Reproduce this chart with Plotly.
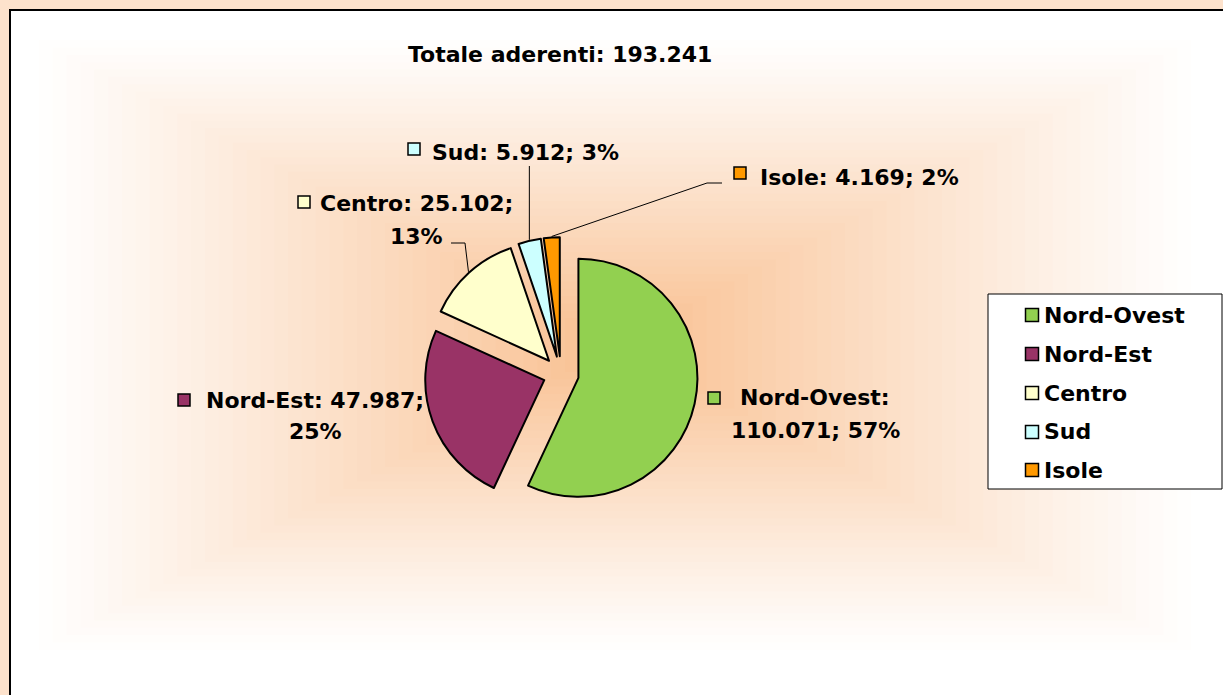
import math
import plotly.graph_objects as go

# dati
regioni = ["Nord-Ovest", "Nord-Est", "Centro", "Sud", "Isole"]
aderenti = [110071, 47987, 25102, 5912, 4169]
colori = ["#92D050", "#993366", "#FFFFCC", "#CCFFFF", "#FF9900"]

W, H = 1223, 695
FONT = "DejaVu Sans"


def px(x):
    return x / W


def py(y):
    return 1 - y / H


def fmt(n):
    return f"{n:,}".replace(",", ".")


totale = sum(aderenti)
perc = [round(v / totale * 100) for v in aderenti]

# geometria della torta (pixel)
cx, cy, r, pull = 561, 374, 119, 0.15
half = r * (1 + pull)

fig = go.Figure(go.Pie(
    labels=regioni, values=aderenti, sort=False, direction="clockwise", rotation=0,
    marker=dict(colors=colori, line=dict(color="black", width=2)),
    pull=[pull] * len(regioni), textinfo="none", hoverinfo="label+value+percent",
    domain=dict(x=[px(cx - half), px(cx + half)], y=[py(cy + half), py(cy - half)]),
    showlegend=False,
))

shapes = []
# cornice bianca
shapes.append(dict(type="rect", xref="paper", yref="paper", x0=px(10), x1=px(W + 5), y0=py(H + 5), y1=py(10),
                   fillcolor="white", line=dict(color="black", width=2), layer="below"))
# sfondo sfumato (gradiente rettangolare dal centro)
gx, gy = 615, 345
peak = (249, 196, 152)
N = 40
for i in range(N):
    t = i / (N - 1)
    hw = 590 - t * 540
    hh = 312 - t * 285
    k = t ** 1.1
    c = tuple(round(255 - k * (255 - p)) for p in peak)
    shapes.append(dict(type="rect", xref="paper", yref="paper",
                       x0=px(gx - hw), x1=px(gx + hw), y0=py(gy + hh), y1=py(gy - hh),
                       fillcolor=f"rgb{c}", line=dict(width=0), layer="below"))

# legenda manuale
shapes.append(dict(type="rect", xref="paper", yref="paper", x0=px(988), x1=px(1222), y0=py(489), y1=py(294),
                   fillcolor="white", line=dict(color="black", width=1), layer="below"))


def quadrato(x, y, col, s=12):
    return dict(type="rect", xref="paper", yref="paper", x0=px(x - s / 2), x1=px(x + s / 2),
                y0=py(y + s / 2), y1=py(y - s / 2), fillcolor=col,
                line=dict(color="black", width=1.5), layer="above")


def testo(txt, x, y, xanchor="center"):
    return dict(text=txt, x=px(x), y=py(y), xref="paper", yref="paper", xanchor=xanchor, yanchor="middle",
                showarrow=False, align="center",
                font=dict(family=FONT, size=22, color="black", weight="bold"))


annotations = [testo("Totale aderenti: " + fmt(totale), 560, 55)]

legend_y = [315, 354, 393, 432, 470]
for lab, col, ly in zip(regioni, colori, legend_y):
    shapes.append(quadrato(1032, ly, col, 13))
    annotations.append(testo(lab, 1042, ly, "left"))

# etichette: righe di testo (centro, y) e posizione del quadratino
etichette = {
    "Nord-Ovest": dict(x=815, y=(398, 430), sq=(714, 398)),
    "Nord-Est": dict(x=315, y=(400, 432), sq=(184, 400)),
    "Centro": dict(x=417, y=(203, 236), sq=(304, 202)),
    "Sud": dict(x=525, y=(152,), sq=(414, 149)),
    "Isole": dict(x=859, y=(177,), sq=(740, 173)),
}
for lab, val, p, col in zip(regioni, aderenti, perc, colori):
    e = etichette[lab]
    if lab == "Nord-Ovest":
        righe = [f"{lab}:", f"{fmt(val)}; {p}%"]
    elif len(e["y"]) == 2:
        righe = [f"{lab}: {fmt(val)};", f"{p}%"]
    else:
        righe = [f"{lab}: {fmt(val)}; {p}%"]
    for riga, ry in zip(righe, e["y"]):
        annotations.append(testo(riga, e["x"], ry))
    shapes.append(quadrato(e["sq"][0], e["sq"][1], col))

# linee guida: calcolate dal punto medio dell'arco di ciascuna fetta
cum = 0
anchors = {}
for lab, val in zip(regioni, aderenti):
    mid = (cum + val / 2) / totale * 2 * math.pi
    cum += val
    rr = r * (1 + pull) + 1
    anchors[lab] = (cx + rr * math.sin(mid), cy - rr * math.cos(mid))


def linea(pts):
    path = "M " + " L ".join(f"{px(x)},{py(y)}" for x, y in pts)
    return dict(type="path", xref="paper", yref="paper", path=path,
                line=dict(color="black", width=1), layer="above")


ax, ay = anchors["Centro"]
shapes.append(linea([(ax, ay), (465, 243), (451, 243)]))
ax, ay = anchors["Sud"]
shapes.append(linea([(ax, ay), (ax, 166)]))
ax, ay = anchors["Isole"]
shapes.append(linea([(ax, ay), (707, 183), (722, 183)]))

fig.update_layout(
    width=W, height=H, margin=dict(l=0, r=0, t=0, b=0),
    paper_bgcolor="#FDE2CC", plot_bgcolor="white",
    shapes=shapes, annotations=annotations,
)

fig.write_html("out.html", config={"displayModeBar": False},
               post_script="document.body.style.margin='0';")
